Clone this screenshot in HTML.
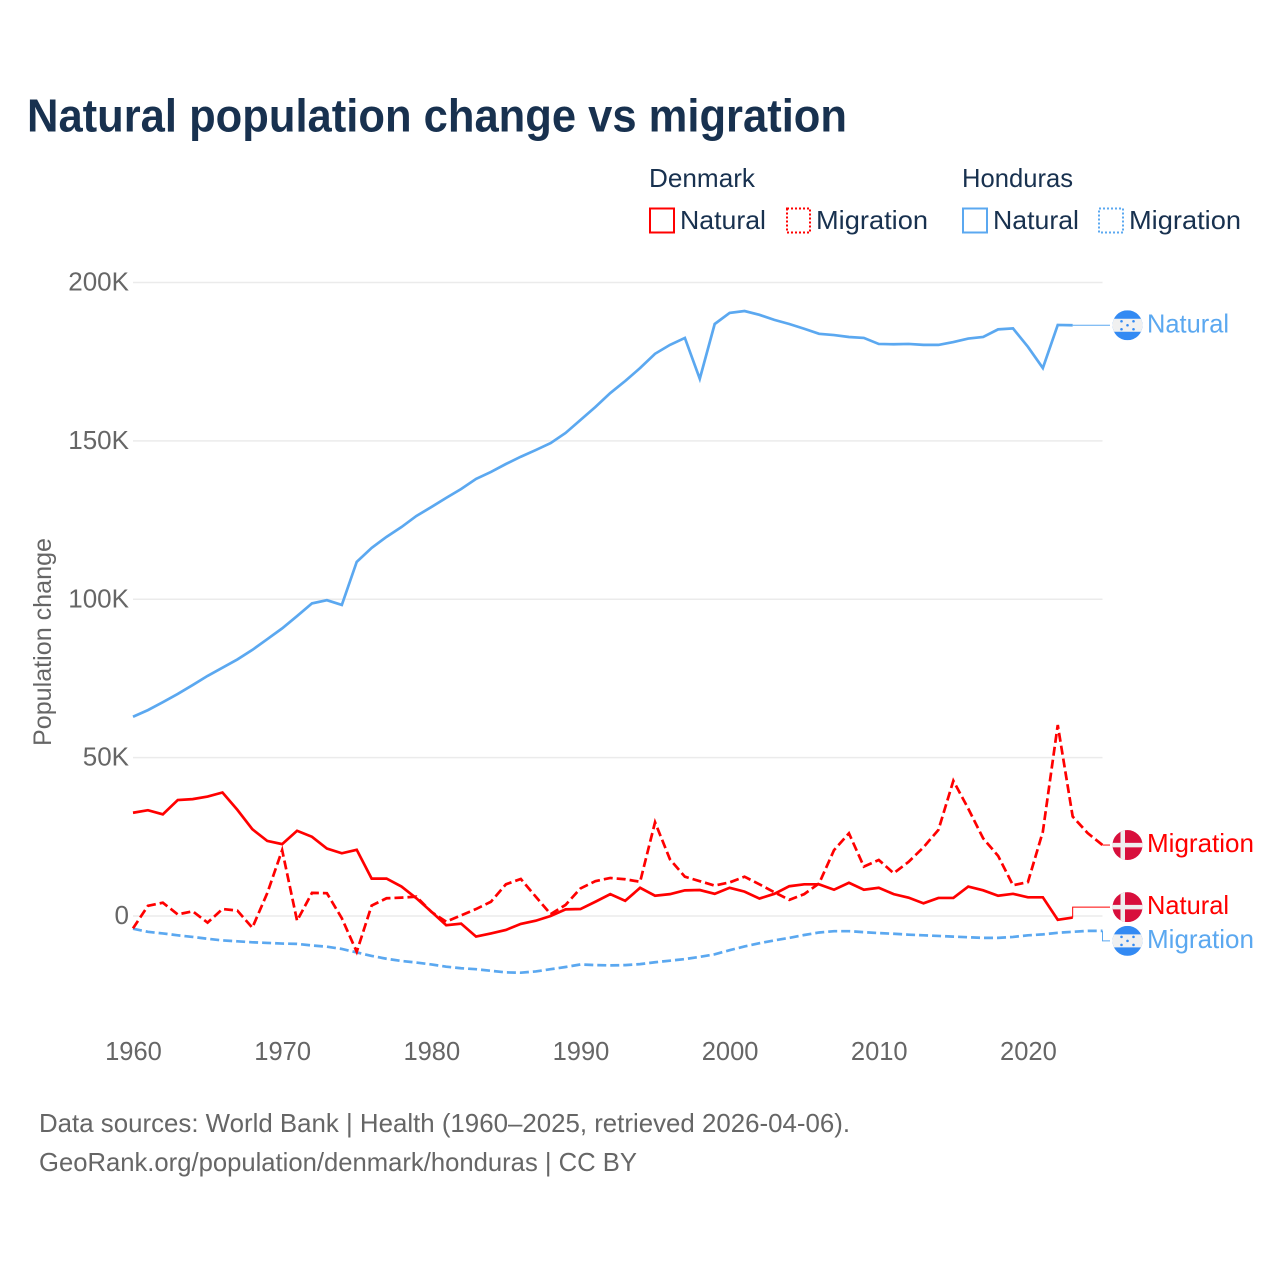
<!DOCTYPE html>
<html lang="en">
<head>
<meta charset="utf-8">
<title>Natural population change vs migration</title>
<style>
html,body{margin:0;padding:0;background:#fff;width:1280px;height:1280px;overflow:hidden}
svg{display:block}
text{font-family:"Liberation Sans",sans-serif}
</style>
</head>
<body>
<svg id="chart" xmlns="http://www.w3.org/2000/svg" width="1280" height="1280" viewBox="0 0 1280 1280">
  <text x="27" y="131.500" font-size="46" font-weight="700" fill="#18314f" textLength="820" lengthAdjust="spacingAndGlyphs">Natural population change vs migration</text>

  <g font-size="26" fill="#18314f">
    <text x="649" y="187" textLength="106" lengthAdjust="spacingAndGlyphs">Denmark</text>
    <text x="962" y="187" textLength="111" lengthAdjust="spacingAndGlyphs">Honduras</text>
    <g>
      <rect x="650" y="208.500" width="24" height="24" fill="none" stroke="#ff0000" stroke-width="2"/>
      <text x="680" y="229" textLength="86" lengthAdjust="spacingAndGlyphs">Natural</text>
    </g>
    <g>
      <rect x="787" y="208.500" width="23" height="24" fill="none" stroke="#ff0000" stroke-width="2" stroke-dasharray="2 2"/>
      <text x="816" y="229" textLength="112" lengthAdjust="spacingAndGlyphs">Migration</text>
    </g>
    <g>
      <rect x="963" y="208.500" width="24" height="24" fill="none" stroke="#5ba8f0" stroke-width="2"/>
      <text x="993" y="229" textLength="86" lengthAdjust="spacingAndGlyphs">Natural</text>
    </g>
    <g>
      <rect x="1099" y="208.500" width="24" height="24" fill="none" stroke="#5ba8f0" stroke-width="2" stroke-dasharray="2 2"/>
      <text x="1129" y="229" textLength="112" lengthAdjust="spacingAndGlyphs">Migration</text>
    </g>
  </g>

  <text transform="translate(51,642) rotate(-90)" text-anchor="middle" font-size="25" fill="#666666" textLength="208" lengthAdjust="spacingAndGlyphs">Population change</text>

  <g id="grid"></g>
  <g id="yticks"></g>
  <g id="xticks"></g>
  <g id="series"></g>
  <g id="labels"></g>

  <defs>
    <clipPath id="flag-clip" clipPathUnits="userSpaceOnUse"><circle cx="0" cy="0" r="15"/></clipPath>
  </defs>

  <g font-size="26" fill="#666666">
    <text x="39" y="1132" textLength="811" lengthAdjust="spacingAndGlyphs">Data sources: World Bank | Health (1960–2025, retrieved 2026-04-06).</text>
    <text x="39" y="1171" textLength="598" lengthAdjust="spacingAndGlyphs">GeoRank.org/population/denmark/honduras | CC BY</text>
  </g>
</svg>

<script>
const startYear = 1960;
const xTickYears = [1960, 1970, 1980, 1990, 2000, 2010, 2020];
const yTickValues = [0, 50000, 100000, 150000, 200000];
const yTickLabels = ["0", "50K", "100K", "150K", "200K"];

const hondurasNatural = [62.9,65,67.5,70.1,72.9,75.8,78.4,81,84,87.4,90.8,94.7,98.7,99.7,98.2,111.8,116.2,119.7,122.8,126.3,129.1,132,134.8,138,140.2,142.7,145,147.1,149.3,152.5,156.6,160.7,165.1,168.9,173,177.5,180.3,182.5,169.6,186.9,190.4,191,189.8,188.2,186.9,185.4,183.8,183.4,182.8,182.5,180.6,180.5,180.6,180.3,180.3,181.2,182.3,182.8,185.2,185.5,179.7,173,186.6,186.5];
const hondurasMigration = [-4,-5,-5.5,-6.1,-6.6,-7.2,-7.7,-8,-8.3,-8.5,-8.7,-8.8,-9.3,-9.7,-10.4,-11.5,-12.6,-13.5,-14.2,-14.7,-15.3,-16,-16.5,-16.8,-17.3,-17.8,-17.9,-17.5,-16.8,-16.1,-15.3,-15.5,-15.6,-15.5,-15.2,-14.6,-14.1,-13.6,-12.9,-12.1,-10.8,-9.6,-8.6,-7.7,-6.9,-6,-5.2,-4.8,-4.8,-5.1,-5.4,-5.6,-5.9,-6.1,-6.3,-6.5,-6.7,-6.9,-6.9,-6.6,-6.1,-5.8,-5.3,-5,-4.7,-4.7];
const denmarkNatural = [32.6,33.4,32.1,36.6,36.9,37.7,39,33.5,27.4,23.7,22.7,26.9,25,21.3,19.8,20.9,11.8,11.8,9.3,5.6,1.4,-2.9,-2.4,-6.5,-5.5,-4.4,-2.5,-1.5,0,2.1,2.2,4.5,6.9,4.8,8.9,6.4,6.9,8.1,8.2,7,8.9,7.7,5.5,7,9.4,10,10,8.3,10.5,8.3,8.9,6.9,5.8,4,5.7,5.7,9.3,8.1,6.4,7,5.9,5.9,-1.2,-0.5];
const denmarkMigration = [-3.9,3.2,4.2,0.5,1.5,-2.1,2.2,1.7,-3.7,7.2,20.8,-1.5,7.3,7.2,-0.7,-11.3,3.3,5.6,5.8,6.1,1.3,-1.8,0.2,2.2,4.5,10,11.7,6.1,0.6,3.5,8.7,11,12,11.6,10.8,29.6,17.9,12.4,11,9.6,10.6,12.4,10,7.5,5.1,6.9,10.3,20.8,26.1,15.6,17.7,13.5,17.1,21.7,27.2,42.7,33.9,24.5,19,9.7,10.7,26.6,60.3,31.4,26.2,22.4];

const NS = "http://www.w3.org/2000/svg";
const RED = "#ff0000";
const BLUE = "#5ba8f0";

function xScale(year) { return 133 + (year - 1960) * (1102.5 - 133) / 65; }
function yScale(value) { return 916 - value * (916 - 282.5) / 200000; }

function make(tag, attrs, parent) {
  const el = document.createElementNS(NS, tag);
  for (const k in attrs) el.setAttribute(k, attrs[k]);
  parent.appendChild(el);
  return el;
}

const gridG = document.getElementById("grid");
const yG = document.getElementById("yticks");
yTickValues.forEach(function (v, i) {
  const line = make("line", {x1: 133, x2: 1102.5, y1: yScale(v), y2: yScale(v), stroke: "#ebebeb", "stroke-width": 1.5}, gridG);
  
  
  const t = make("text", {x: 129, y: yScale(v) + 8, "text-anchor": "end", "font-size": 26, fill: "#666666"}, yG);
  
  
  t.textContent = yTickLabels[i];
});

const xG = document.getElementById("xticks");
xTickYears.forEach(function (yr) {
  const t = make("text", {x: xScale(yr) + 0.5, y: 1060, "text-anchor": "middle", "font-size": 25.5, fill: "#666666"}, xG);
  
  
  t.textContent = String(yr);
});

function linePoints(values) {
  return values.map(function (v, i) {
    return xScale(startYear + i).toFixed(2) + "," + yScale(v * 1000).toFixed(2);
  }).join(" ");
}

const seriesG = document.getElementById("series");
function drawLine(values, color, dashed, name) {
  const attrs = {points: linePoints(values), fill: "none", stroke: color, "stroke-width": 2.7, "stroke-linejoin": "miter"};
  if (dashed) attrs["stroke-dasharray"] = "9 4";
  const pl = make("polyline", attrs, seriesG);
  
  
}
drawLine(hondurasNatural, BLUE, false, "line-honduras-natural");
drawLine(hondurasMigration, BLUE, true, "line-honduras-migration");
drawLine(denmarkNatural, RED, false, "line-denmark-natural");
drawLine(denmarkMigration, RED, true, "line-denmark-migration");

const labelsG = document.getElementById("labels");

function drawFlag(kind, cy) {
  const g = make("g", {transform: "translate(1127.500," + cy + ")", "clip-path": "url(#flag-clip)"}, labelsG);
  
  
  if (kind === "denmark") {
    make("rect", {x: -15, y: -15, width: 30, height: 30, fill: "#d80f3c"}, g);
    make("rect", {x: -7, y: -15, width: 4.5, height: 30, fill: "#efefef"}, g);
    make("rect", {x: -15, y: -2.2, width: 30, height: 4.5, fill: "#efefef"}, g);
  } else {
    make("rect", {x: -15, y: -15, width: 30, height: 30, fill: "#338af3"}, g);
    make("rect", {x: -15, y: -6.5, width: 30, height: 13, fill: "#f0f0f0"}, g);
    [[-6, -4], [6, -4], [0, 0], [-6, 4], [6, 4]].forEach(function (p) {
      make("circle", {cx: p[0], cy: p[1], r: 1.3, fill: "#338af3"}, g);
    });
  }
}

function drawEndLabel(values, color, dashedEnd, text, kind, shift, name) {
  const lastX = xScale(startYear + values.length - 1);
  const lastY = yScale(values[values.length - 1] * 1000);
  const labelY = lastY + shift;
  const d = "M" + lastX + " " + lastY + "V" + labelY + "H1110";
  const leader = make("path", {d: d, fill: "none", stroke: color, "stroke-width": 1}, labelsG);
  
  
  drawFlag(kind, labelY);
  const t = make("text", {x: 1147, y: labelY + 7, "font-size": 26, fill: color, textLength: text === "Natural" ? 82 : 107, lengthAdjust: "spacingAndGlyphs"}, labelsG);
  
  
  t.textContent = text;
}

drawEndLabel(hondurasNatural, BLUE, false, "Natural", "honduras", 0, "honduras-natural");
drawEndLabel(denmarkMigration, RED, true, "Migration", "denmark", 0, "denmark-migration");
drawEndLabel(denmarkNatural, RED, false, "Natural", "denmark", -10.5, "denmark-natural");
drawEndLabel(hondurasMigration, BLUE, true, "Migration", "honduras", 10, "honduras-migration");
</script>
</body>
</html>
